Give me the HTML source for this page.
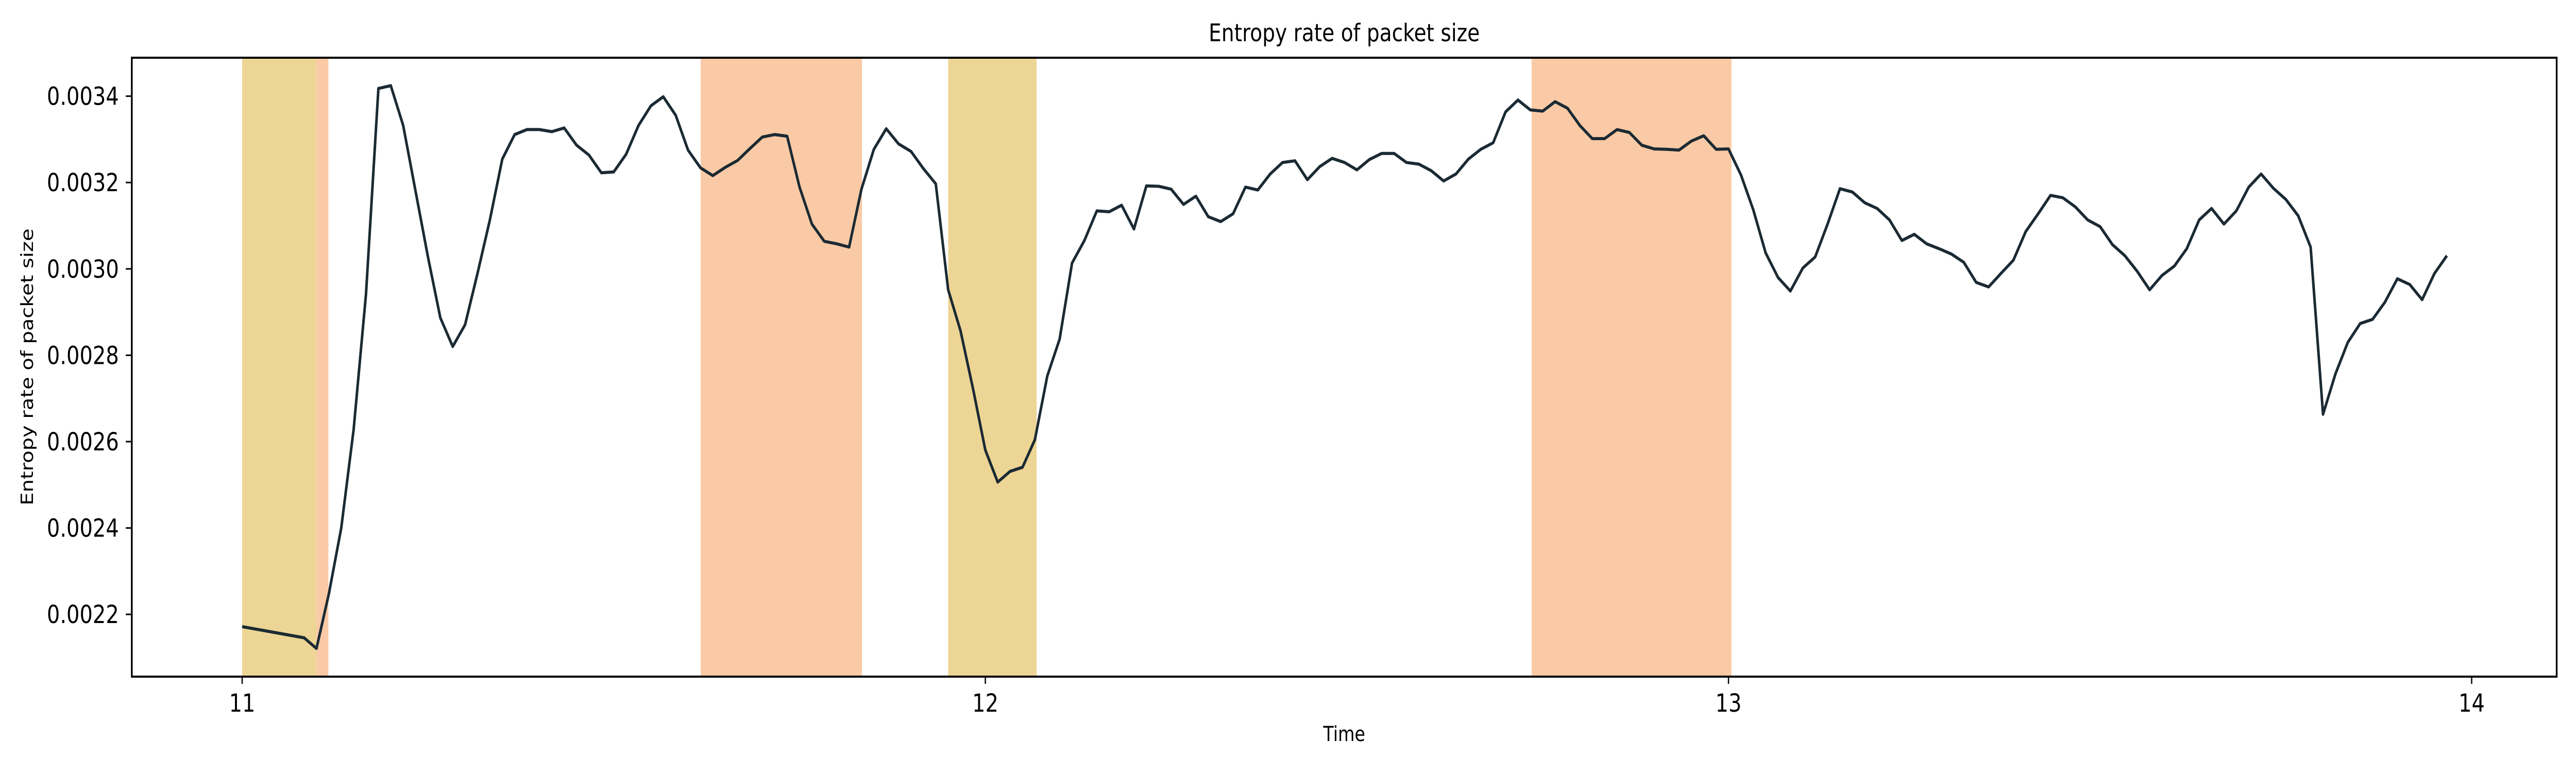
<!DOCTYPE html>
<html><head><meta charset="utf-8"><style>
html,body{margin:0;padding:0;background:#fff;width:100%;height:100%;overflow:hidden;}
svg{display:block;width:100vw;height:100vh;font-family:"DejaVu Sans","Liberation Sans",sans-serif;}
</style></head><body>
<svg id="chart" viewBox="0 0 6000 1500" preserveAspectRatio="none" xmlns="http://www.w3.org/2000/svg">
<rect x="0" y="0" width="6000" height="1500" fill="#ffffff"/>
<g id="spans"></g>
<g id="series"></g>
<g id="axes"></g>
<text x="3131" y="80" font-size="47" text-anchor="middle" fill="#000">Entropy rate of packet size</text>
<text x="3131" y="1438" font-size="40" text-anchor="middle" fill="#000">Time</text>
<text x="0" y="0" font-size="40" text-anchor="middle" fill="#000" transform="translate(77,712) rotate(-90)">Entropy rate of packet size</text>
</svg>
<script>
// minute offsets from 11:00 (time = 11 + minute/60)
const minutes = [0,5,6,7,8,9,10,11,12,13,14,15,16,17,18,19,20,21,22,23,24,25,26,27,28,29,30,31,32,33,34,35,36,37,38,39,40,41,42,43,44,45,46,47,48,49,50,51,52,53,54,55,56,57,58,59,60,61,62,63,64,65,66,67,68,69,70,71,72,73,74,75,76,77,78,79,80,81,82,83,84,85,86,87,88,89,90,91,92,93,94,95,96,97,98,99,100,101,102,103,104,105,106,107,108,109,110,111,112,113,114,115,116,117,118,119,120,121,122,123,124,125,126,127,128,129,130,131,132,133,134,135,136,137,138,139,140,141,142,143,144,145,146,147,148,149,150,151,152,153,154,155,156,157,158,159,160,161,162,163,164,165,166,167,168,169,170,171,172,173,174,175,176,177,178];
const entropy = [0.0021715,0.0021458,0.0021211,0.0022476,0.0023998,0.0026281,0.0029420,0.0034177,0.0034243,0.0033321,0.0031799,0.0030276,0.0028869,0.0028203,0.0028707,0.0029896,0.0031133,0.0032541,0.0033111,0.0033226,0.0033226,0.0033178,0.0033264,0.0032864,0.0032636,0.0032227,0.0032246,0.0032655,0.0033321,0.0033777,0.0033987,0.0033558,0.0032750,0.0032341,0.0032160,0.0032350,0.0032512,0.0032788,0.0033054,0.0033111,0.0033073,0.0031894,0.0031038,0.0030638,0.0030581,0.0030505,0.0031846,0.0032769,0.0033245,0.0032893,0.0032721,0.0032322,0.0031970,0.0029515,0.0028564,0.0027232,0.0025805,0.0025063,0.0025311,0.0025406,0.0026043,0.0027518,0.0028374,0.0030134,0.0030657,0.0031342,0.0031323,0.0031475,0.0030923,0.0031922,0.0031913,0.0031846,0.0031494,0.0031684,0.0031209,0.0031095,0.0031275,0.0031894,0.0031827,0.0032198,0.0032464,0.0032503,0.0032065,0.0032369,0.0032560,0.0032464,0.0032293,0.0032531,0.0032674,0.0032674,0.0032464,0.0032426,0.0032274,0.0032036,0.0032198,0.0032541,0.0032769,0.0032921,0.0033635,0.0033910,0.0033682,0.0033654,0.0033872,0.0033720,0.0033321,0.0033016,0.0033016,0.0033226,0.0033159,0.0032864,0.0032778,0.0032769,0.0032750,0.0032959,0.0033083,0.0032769,0.0032778,0.0032179,0.0031370,0.0030372,0.0029801,0.0029487,0.0030020,0.0030276,0.0031038,0.0031856,0.0031780,0.0031532,0.0031399,0.0031133,0.0030657,0.0030800,0.0030581,0.0030467,0.0030343,0.0030153,0.0029687,0.0029582,0.0029896,0.0030200,0.0030866,0.0031275,0.0031703,0.0031646,0.0031437,0.0031133,0.0030980,0.0030562,0.0030305,0.0029944,0.0029515,0.0029848,0.0030067,0.0030467,0.0031133,0.0031399,0.0031038,0.0031342,0.0031894,0.0032198,0.0031865,0.0031608,0.0031228,0.0030505,0.0026633,0.0027565,0.0028298,0.0028735,0.0028831,0.0029230,0.0029772,0.0029639,0.0029287,0.0029896,0.0030305];
const spanStarts = [11.0, 11.1, 11.617, 11.95, 12.735];
const spanEnds = [11.1, 11.116, 11.834, 12.069, 13.004];
const spanKinds = ["gold","salmon","salmon","gold","salmon"];
const xTicks = [11, 12, 13, 14];
const xTickLabels = ["11","12","13","14"];
const yTicks = [0.0022, 0.0024, 0.0026, 0.0028, 0.0030, 0.0032, 0.0034];
const yTickLabels = ["0.0022","0.0024","0.0026","0.0028","0.0030","0.0032","0.0034"];

const L = 307, R = 5955, T = 112, B = 1313;
const xMin = 10.8515, xMax = 14.1144, yMin = 0.0020558, yMax = 0.003489;
function xs(t){ return L + (t - xMin) / (xMax - xMin) * (R - L); }
function ys(v){ return B - (v - yMin) / (yMax - yMin) * (B - T); }
const NS = "http://www.w3.org/2000/svg";
const colors = {gold:"#edd595", salmon:"#f9caa5"};

const spansG = document.getElementById('spans');
for (let i = 0; i < spanStarts.length; i++) {
  const r = document.createElementNS(NS, 'rect');
  
  
  const x0 = xs(spanStarts[i]), x1 = xs(spanEnds[i]);
  r.setAttribute('x', x0); r.setAttribute('y', T);
  r.setAttribute('width', x1 - x0); r.setAttribute('height', B - T);
  r.setAttribute('fill', colors[spanKinds[i]]);
  spansG.appendChild(r);
}

const seriesG = document.getElementById('series');
let d = '';
for (let i = 0; i < minutes.length; i++) {
  const t = 11 + minutes[i] / 60;
  d += (i ? 'L' : 'M') + xs(t).toFixed(1) + ' ' + ys(entropy[i]).toFixed(1);
}
const path = document.createElementNS(NS, 'path');


path.setAttribute('d', d);
path.setAttribute('fill', 'none');
path.setAttribute('stroke', '#1b2a33');
path.setAttribute('stroke-width', '6');
path.setAttribute('stroke-linejoin', 'round');
seriesG.appendChild(path);

const axesG = document.getElementById('axes');
const frame = document.createElementNS(NS, 'rect');


frame.setAttribute('x', L); frame.setAttribute('y', T);
frame.setAttribute('width', R - L); frame.setAttribute('height', B - T);
frame.setAttribute('fill', 'none'); frame.setAttribute('stroke', '#000'); frame.setAttribute('stroke-width', '4');
axesG.appendChild(frame);

for (let i = 0; i < xTicks.length; i++) {
  const x = xs(xTicks[i]);
  const tk = document.createElementNS(NS, 'line');
  
  
  tk.setAttribute('x1', x); tk.setAttribute('x2', x);
  tk.setAttribute('y1', B); tk.setAttribute('y2', B + 14);
  tk.setAttribute('stroke', '#000'); tk.setAttribute('stroke-width', '3');
  axesG.appendChild(tk);
  const tx = document.createElementNS(NS, 'text');
  
  
  tx.setAttribute('x', x); tx.setAttribute('y', B + 68);
  tx.setAttribute('font-size', '48'); tx.setAttribute('text-anchor', 'middle');
  tx.textContent = xTickLabels[i];
  axesG.appendChild(tx);
}
for (let i = 0; i < yTicks.length; i++) {
  const y = ys(yTicks[i]);
  const tk = document.createElementNS(NS, 'line');
  
  
  tk.setAttribute('x1', L - 14); tk.setAttribute('x2', L);
  tk.setAttribute('y1', y); tk.setAttribute('y2', y);
  tk.setAttribute('stroke', '#000'); tk.setAttribute('stroke-width', '3');
  axesG.appendChild(tk);
  const tx = document.createElementNS(NS, 'text');
  
  
  tx.setAttribute('x', L - 30); tx.setAttribute('y', y + 17);
  tx.setAttribute('font-size', '48'); tx.setAttribute('text-anchor', 'end');
  tx.textContent = yTickLabels[i];
  axesG.appendChild(tx);
}
</script>
</body></html>
